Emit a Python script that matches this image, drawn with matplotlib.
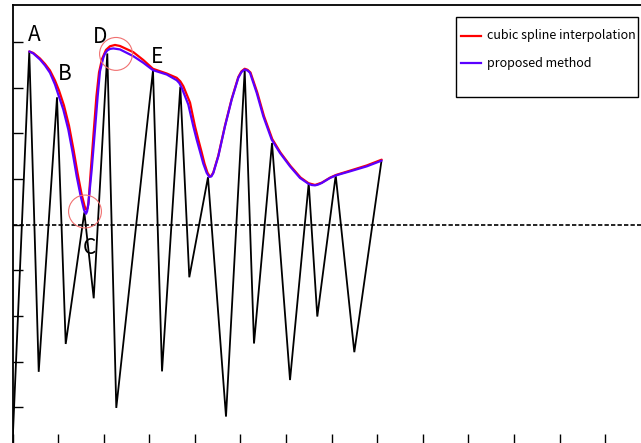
import numpy as np
import matplotlib
matplotlib.use("Agg")
import matplotlib.pyplot as plt
from matplotlib.patches import Circle, Rectangle
from matplotlib.lines import Line2D

plt.rcParams['font.family'] = ['Noto Sans CJK KR', 'DejaVu Sans']

# signal vertices (zigzag)
sig_x = [0.0, 0.368, 0.575, 0.976, 1.167, 1.575, 1.781, 2.079, 2.276, 3.081, 3.279,
         3.680, 3.877, 4.287, 4.682, 5.092, 5.296, 5.691, 6.086, 6.496, 6.684,
         7.088, 7.496, 8.088]
sig_y = [-4.8, 3.79, -3.22, 2.79, -2.61, 0.27, -1.61, 3.75, -4.01, 3.38, -3.21,
         3.02, -1.15, 1.04, -4.20, 3.38, -2.60, 1.79, -3.40, 0.91, -2.01,
         1.08, -2.79, 1.375]

# proposed method envelope
blue_x = [0.368, 0.456, 0.603, 0.713, 0.822, 0.932, 1.004, 1.114, 1.224, 1.320,
          1.408, 1.496, 1.568, 1.590, 1.612, 1.635, 1.662, 1.737, 1.809, 1.868,
          1.919, 1.991, 2.029, 2.079, 2.140, 2.211, 2.357, 2.649, 2.868, 3.081,
          3.382, 3.601, 3.660, 3.711, 3.855, 3.965, 4.039, 4.112, 4.184, 4.259,
          4.316, 4.360, 4.404, 4.513, 4.660, 4.807, 4.952, 5.022, 5.092, 5.154,
          5.208, 5.355, 5.500, 5.684, 5.866, 6.086, 6.305, 6.487, 6.560, 6.634,
          6.700, 6.781, 6.963, 7.094, 7.401, 7.768, 8.096]
blue_y = [3.794, 3.750, 3.618, 3.487, 3.327, 3.070, 2.851, 2.522, 2.083, 1.572,
          1.059, 0.621, 0.329, 0.270, 0.241, 0.290, 0.439, 1.206, 2.083, 2.814,
          3.362, 3.656, 3.750, 3.816, 3.850, 3.860, 3.838, 3.691, 3.546, 3.384,
          3.289, 3.164, 3.100, 2.998, 2.632, 2.156, 1.864, 1.601, 1.338, 1.134,
          1.046, 1.057, 1.134, 1.498, 2.156, 2.741, 3.217, 3.344, 3.399, 3.377,
          3.327, 2.888, 2.375, 1.864, 1.572, 1.278, 1.024, 0.899, 0.870, 0.862,
          0.878, 0.914, 1.024, 1.081, 1.169, 1.278, 1.404]

# cubic spline interpolation envelope
red_x = [0.368, 0.456, 0.603, 0.713, 0.822, 0.932, 1.020, 1.129, 1.239, 1.338,
         1.425, 1.513, 1.579, 1.601, 1.623, 1.645, 1.667, 1.715, 1.781, 1.840,
         1.897, 1.963, 2.050, 2.138, 2.248, 2.357, 2.649, 2.868, 3.081, 3.382,
         3.601, 3.680, 3.746, 3.893, 4.002, 4.075, 4.145, 4.211, 4.276, 4.320,
         4.360, 4.404, 4.513, 4.660, 4.807, 4.952, 5.022, 5.092, 5.154, 5.219,
         5.368, 5.515, 5.697, 5.877, 6.096, 6.316, 6.491, 6.634, 6.781, 6.963,
         7.094, 7.401, 7.768, 8.096]
red_y = [3.794, 3.761, 3.640, 3.520, 3.377, 3.158, 2.939, 2.610, 2.171, 1.645,
         1.140, 0.680, 0.417, 0.345, 0.329, 0.360, 0.482, 1.162, 2.039, 2.807,
         3.333, 3.629, 3.827, 3.908, 3.936, 3.914, 3.779, 3.607, 3.414, 3.311,
         3.217, 3.140, 3.033, 2.675, 2.156, 1.864, 1.601, 1.338, 1.140, 1.068,
         1.070, 1.145, 1.513, 2.171, 2.757, 3.235, 3.360, 3.415, 3.392, 3.333,
         2.895, 2.379, 1.875, 1.579, 1.287, 1.035, 0.910, 0.871, 0.921, 1.031,
         1.090, 1.184, 1.298, 1.425]

labels = ['A', 'B', 'C', 'D', 'E']
label_x = [0.47, 1.15, 1.69, 1.93, 3.16]
label_y = [4.16, 3.29, -0.50, 4.10, 3.68]

circle_x = [1.59, 2.27]
circle_y = [0.29, 3.74]

legend_labels = ['cubic spline interpolation', 'proposed method']
legend_colors = ['#ff0000', '#5a00ff']

fig = plt.figure(figsize=(6.41, 4.43), dpi=100)
W, H = 641, 443
left_px, top_px, right_px, bottom_px = 12.5, 5.5, 12.5 + 45.6 * 14, 444.0
ax = fig.add_axes([left_px / W, 1 - bottom_px / H, (right_px - left_px) / W, (bottom_px - top_px) / H])
ax.set_xlim(0, 14)
ax.set_ylim(-4.8, 4.8)

ax.plot(sig_x, sig_y, color='black', lw=1.3, zorder=2, solid_joinstyle='miter')
ax.axhline(0, color='black', lw=1.2, ls=(0, (2.6, 1.3)), zorder=2)

ax.plot(red_x, red_y, color=legend_colors[0], lw=1.6, zorder=3,
        solid_capstyle='round', solid_joinstyle='round')
ax.plot(blue_x, blue_y, color=legend_colors[1], lw=1.6, zorder=4,
        solid_capstyle='round', solid_joinstyle='round')

for cx, cy in zip(circle_x, circle_y):
    ax.add_patch(Circle((cx, cy), 0.36, fill=False, ec='#f07070', lw=0.8, zorder=5))

for t, lx, ly in zip(labels, label_x, label_y):
    ax.text(lx, ly, t, fontsize=15, ha='center', va='center', color='black')

ax.set_xticks(np.arange(0, 15, 1))
ax.set_yticks(np.arange(-4, 5, 1))
ax.tick_params(direction='in', length=7, width=1.0, labelleft=False, labelbottom=False)
for s in ax.spines.values():
    s.set_linewidth(1.3)

# legend box drawn in figure pixels
def fx(px):
    return px / W

def fy(py):
    return 1 - py / H

fig.patches.append(Rectangle((fx(456), fy(97)), fx(638) - fx(456), fy(17) - fy(97),
                             transform=fig.transFigure, fill=True, fc='white',
                             ec='black', lw=1.0, zorder=10))
for i, (lab, col) in enumerate(zip(legend_labels, legend_colors)):
    yy = 36 + 27 * i
    fig.lines.append(Line2D([fx(461), fx(481)], [fy(yy), fy(yy)], transform=fig.transFigure,
                            color=col, lw=1.6, zorder=11))
    fig.text(fx(487), fy(yy), lab, fontsize=9, ha='left', va='center', color='black', zorder=11)

fig.savefig('out.png', dpi=100)
